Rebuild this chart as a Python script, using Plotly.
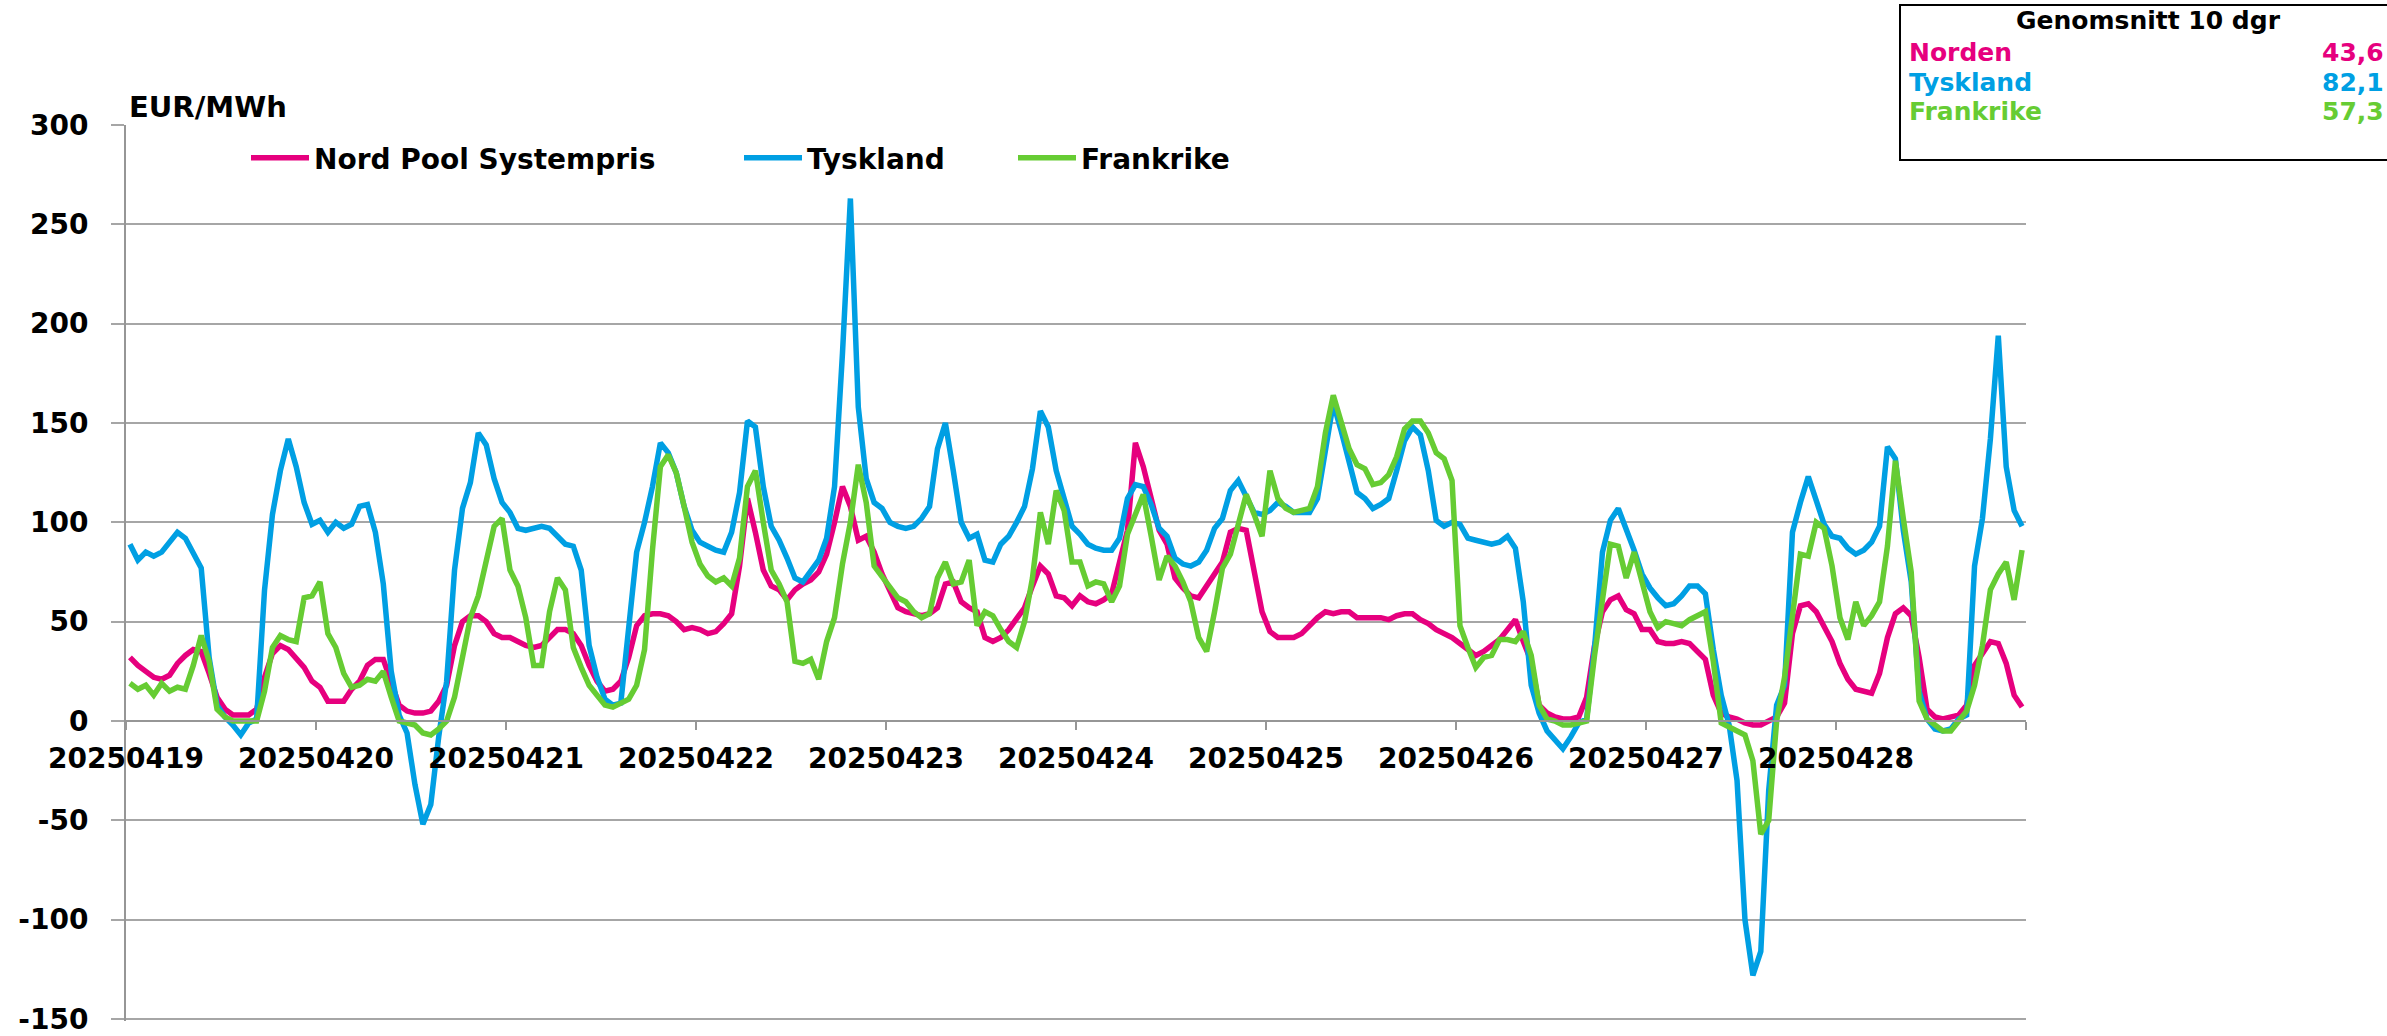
import plotly.graph_objects as go

# ---------------- data ----------------
days = ["20250419", "20250420", "20250421", "20250422", "20250423",
        "20250424", "20250425", "20250426", "20250427", "20250428"]

series_names = ["Nord Pool Systempris", "Tyskland", "Frankrike"]

# hourly prices EUR/MWh, one row per day (24 hours)
nordpool = [
    32, 28, 25, 22, 21, 23, 29, 33, 36, 35, 24, 12, 6, 3, 3, 3, 6, 22, 34, 38, 36, 31, 27, 20,
    17, 10, 10, 10, 16, 20, 28, 31, 31, 20, 8, 5, 4, 4, 5, 10, 18, 38, 50, 53, 53, 50, 44, 42,
    42, 40, 38, 37, 38, 42, 46, 46, 44, 38, 28, 20, 15, 16, 20, 32, 48, 53, 54, 54, 53, 50, 46, 47,
    46, 44, 45, 49, 54, 78, 112, 95, 76, 68, 66, 61, 66, 69, 71, 75, 84, 100, 118, 108, 91, 93, 85, 74,
    65, 57, 55, 54, 53, 54, 57, 69, 70, 60, 57, 55, 42, 40, 42, 46, 52, 57, 68, 78, 74, 63, 62, 58,
    63, 60, 59, 61, 64, 79, 96, 140, 128, 112, 96, 89, 72, 67, 63, 62, 68, 73, 80, 95, 97, 96, 75, 55,
    45, 42, 42, 42, 44, 48, 52, 55, 54, 55, 55, 52, 52, 52, 52, 51, 53, 54, 54, 51, 49, 46, 44, 42,
    39, 36, 33, 35, 38, 41, 46, 51, 40, 30, 8, 4, 2, 1, 1, 2, 12, 38, 55, 61, 63, 56, 54, 46,
    46, 40, 39, 39, 40, 39, 35, 31, 13, 4, 2, 1, -1, -2, -2, 0, 2, 9, 44, 58, 59, 55, 47, 40,
    29, 21, 16, 15, 14, 24, 42, 54, 57, 53, 32, 6, 2, 1, 2, 3, 8, 28, 34, 40, 39, 29, 13, 7,
]

tyskland = [
    89, 81, 85, 83, 85, 90, 95, 92, 84, 77, 32, 8, 2, -2, -7, -1, 1, 66, 104, 126, 142, 128, 110, 99,
    101, 95, 100, 97, 99, 108, 109, 95, 69, 25, 3, -6, -32, -52, -42, -8, 20, 76, 107, 120, 145, 139, 122, 110,
    105, 97, 96, 97, 98, 97, 93, 89, 88, 76, 38, 22, 11, 8, 9, 48, 85, 100, 118, 140, 135, 125, 108, 96,
    90, 88, 86, 85, 95, 115, 151, 148, 118, 98, 91, 82, 72, 70, 76, 81, 92, 118, 185, 263, 158, 122, 110, 107,
    100, 98, 97, 98, 102, 108, 137, 150, 126, 100, 92, 94, 81, 80, 89, 93, 100, 108, 127, 156, 148, 126, 112, 98,
    94, 89, 87, 86, 86, 92, 112, 119, 118, 109, 97, 93, 82, 79, 78, 80, 86, 97, 102, 116, 121, 113, 105, 104,
    106, 110, 108, 105, 105, 105, 112, 137, 160, 146, 129, 115, 112, 107, 109, 112, 126, 141, 148, 144, 126, 101, 98, 100,
    99, 92, 91, 90, 89, 90, 93, 87, 60, 18, 4, -5, -10, -14, -8, -1, 1, 37, 85, 101, 107, 97, 86, 74,
    67, 62, 58, 59, 63, 68, 68, 64, 36, 13, -2, -30, -100, -128, -116, -35, 8, 18, 95, 110, 123, 111, 99, 93,
    92, 87, 84, 86, 90, 98, 138, 132, 96, 70, 15, 1, -4, -5, -4, 1, 3, 78, 102, 142, 194, 128, 106, 98,
]

frankrike = [
    19, 16, 18, 13, 19, 15, 17, 16, 28, 43, 30, 6, 2, 0, 0, 0, 0, 15, 37, 43, 41, 40, 62, 63,
    70, 44, 37, 24, 17, 18, 21, 20, 25, 12, 0, -1, -2, -6, -7, -4, 0, 12, 33, 52, 63, 82, 98, 102,
    76, 68, 52, 28, 28, 55, 72, 66, 37, 27, 18, 13, 8, 7, 9, 11, 18, 36, 86, 128, 134, 125, 108, 90,
    79, 73, 70, 72, 68, 82, 118, 126, 100, 76, 69, 60, 30, 29, 31, 21, 40, 52, 79, 100, 129, 110, 78, 73,
    68, 62, 60, 55, 52, 54, 72, 80, 69, 70, 81, 48, 55, 53, 46, 40, 37, 50, 72, 105, 89, 116, 106, 80,
    80, 68, 70, 69, 60, 68, 94, 105, 114, 93, 71, 83, 78, 70, 60, 42, 35, 55, 77, 84, 100, 114, 104, 93,
    126, 112, 107, 105, 106, 107, 118, 145, 164, 151, 137, 129, 127, 119, 120, 124, 133, 147, 151, 151, 145, 135, 132, 121,
    48, 37, 27, 32, 33, 41, 41, 40, 45, 33, 8, 1, 0, -2, -2, -1, 0, 33, 62, 89, 88, 72, 85, 70,
    55, 47, 50, 49, 48, 51, 53, 55, 30, -1, -3, -5, -7, -20, -57, -50, 0, 22, 52, 84, 83, 100, 97, 78,
    52, 41, 60, 48, 53, 60, 88, 131, 102, 75, 10, 1, -2, -5, -5, 0, 5, 18, 38, 66, 74, 80, 61, 86,
]

avg_title = "Genomsnitt 10 dgr"
avg_names = ["Norden", "Tyskland", "Frankrike"]
avg_values = ["43,6", "82,1", "57,3"]

y_ticks = [-150, -100, -50, 0, 50, 100, 150, 200, 250, 300]
y_ticktext = ["-150", "-100", "-50", "0", "50", "100", "150", "200", "250", "300"]
unit_label = "EUR/MWh"

# ---------------- style ----------------
colors = ["#E6007E", "#009FE3", "#66CC33"]
FONT = "DejaVu Sans"
W, H = 2387, 1036
L, R, T, B = 126, 361, 125, 15
PW, PH = W - L - R, H - T - B
Y_LO, Y_HI = -151, 300


def px_x(px):
    return (px - L) / PW


def px_y(py):
    return (H - B - py) / PH


hours = list(range(len(nordpool)))
all_series = [nordpool, tyskland, frankrike]
legend_ids = ["legend", "legend2", "legend3"]

fig = go.Figure()
for name, vals, col, lg in zip(series_names, all_series, colors, legend_ids):
    fig.add_trace(go.Scatter(
        x=hours, y=vals, mode="lines", name=name, legend=lg,
        line=dict(color=col, width=5.5),
    ))

tickfont = dict(family=FONT, size=28, color="black", weight="bold")
n_days = len(days)

fig.update_layout(
    width=W, height=H,
    margin=dict(l=L, r=R, t=T, b=B, autoexpand=False),
    plot_bgcolor="white", paper_bgcolor="white",
    showlegend=True,
    xaxis=dict(
        range=[-0.5, len(hours) - 0.5],
        tickvals=[24 * k - 0.5 for k in range(n_days + 1)],
        ticktext=days + [""],
        showgrid=False, zeroline=False, automargin=False,
        showline=True, linecolor="#969696", linewidth=2,
        ticks="outside", ticklen=8, tickwidth=2, tickcolor="#969696",
        anchor="free", position=(0 - Y_LO) / (Y_HI - Y_LO),
        tickfont=tickfont, ticklabelstandoff=4, ticklabeloverflow="allow",
    ),
    yaxis=dict(
        range=[Y_LO, Y_HI], tickvals=y_ticks, ticktext=y_ticktext,
        showgrid=True, gridcolor="#a6a6a6", gridwidth=2,
        zeroline=False, automargin=False,
        showline=True, linecolor="#969696", linewidth=2,
        ticks="outside", ticklen=13, tickwidth=2, tickcolor="#a6a6a6",
        tickfont=tickfont, ticklabelstandoff=17, ticklabeloverflow="allow",
    ),
)

legfont = dict(family=FONT, size=28, color="black", weight="bold")
leg_line_px = [251, 744, 1018]
for lg, lx in zip(legend_ids, leg_line_px):
    fig.update_layout({lg: dict(
        orientation="h", x=px_x(lx - 5), y=px_y(158),
        xanchor="left", yanchor="middle", itemwidth=58,
        bgcolor="rgba(0,0,0,0)", borderwidth=0, font=legfont,
    )})

# unit label
fig.add_annotation(
    text=unit_label, xref="paper", yref="paper", x=px_x(127), y=1,
    xanchor="left", yanchor="bottom", yshift=-1, showarrow=False,
    font=dict(family=FONT, size=29, color="black", weight="bold"),
)

# average box
fig.add_shape(
    type="rect", xref="paper", yref="paper",
    x0=px_x(1900), x1=px_x(2440), y0=px_y(160), y1=px_y(5),
    line=dict(color="black", width=2), fillcolor="white", layer="above",
)
BOX_FS = 25
fig.add_annotation(
    text=avg_title, xref="paper", yref="paper", x=px_x(2148), y=px_y(21),
    xanchor="center", yanchor="middle", showarrow=False, borderpad=0,
    font=dict(family=FONT, size=BOX_FS, color="black", weight="bold"),
)
row_y = [52, 82, 112]
for nm, val, col, ry in zip(avg_names, avg_values, colors, row_y):
    fig.add_annotation(
        text=nm, xref="paper", yref="paper", x=px_x(1908), y=px_y(ry),
        xanchor="left", yanchor="middle", showarrow=False, borderpad=0,
        font=dict(family=FONT, size=BOX_FS, color=col, weight="bold"),
    )
    fig.add_annotation(
        text=val, xref="paper", yref="paper", x=px_x(2385), y=px_y(ry),
        xanchor="right", yanchor="middle", showarrow=False, borderpad=0,
        font=dict(family=FONT, size=BOX_FS, color=col, weight="bold"),
    )

fig.write_html(
    "out.html",
    config={"displayModeBar": False},
    post_script="document.body.style.margin='0px';",
)
